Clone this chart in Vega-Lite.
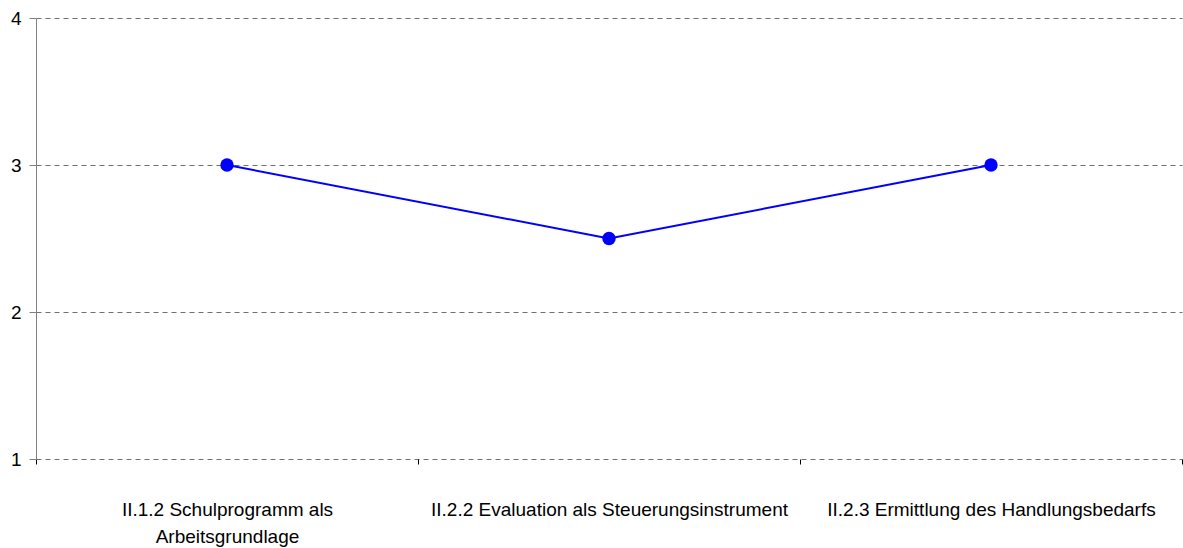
{
  "$schema": "https://vega.github.io/schema/vega-lite/v6.json",
  "width": 1146,
  "height": 441,
  "autosize": {"type": "none"},
  "padding": {"left": 36, "top": 18, "right": 1, "bottom": 89},
  "background": "white",
  "config": {"view": {"stroke": null}, "font": "Liberation Sans"},
  "data": {
    "values": [
      {"kategorie": "II.1.2 Schulprogramm als Arbeitsgrundlage", "wert": 3},
      {"kategorie": "II.2.2 Evaluation als Steuerungsinstrument", "wert": 2.5},
      {"kategorie": "II.2.3 Ermittlung des Handlungsbedarfs", "wert": 3}
    ]
  },
  "encoding": {
    "x": {
      "field": "kategorie",
      "type": "nominal",
      "sort": null,
      "scale": {"paddingInner": 0, "paddingOuter": 0},
      "axis": {
        "title": null,
        "labelAngle": 0,
        "domain": false,
        "grid": false,
        "tickBand": "extent",
        "ticks": true,
        "tickSize": 5,
        "tickColor": "#000000",
        "labelFont": "Liberation Sans",
        "labelFontSize": 19,
        "labelColor": "#000000",
        "labelPadding": 36,
        "labelLimit": 0,
        "labelBaseline": "top",
        "labelLineHeight": 27,
        "labelExpr": "datum.value == 'II.1.2 Schulprogramm als Arbeitsgrundlage' ? ['II.1.2 Schulprogramm als', 'Arbeitsgrundlage'] : datum.value"
      }
    },
    "y": {
      "field": "wert",
      "type": "quantitative",
      "scale": {"domain": [1, 4], "nice": false, "zero": false},
      "axis": {
        "title": null,
        "values": [1, 2, 3, 4],
        "format": "d",
        "domain": true,
        "domainColor": "#808080",
        "domainWidth": 1,
        "ticks": true,
        "tickSize": 7,
        "tickColor": "#808080",
        "grid": true,
        "gridColor": "#707070",
        "gridDash": [5, 4],
        "gridWidth": 1,
        "labelFont": "Liberation Sans",
        "labelFontSize": 19,
        "labelColor": "#000000",
        "labelPadding": 8
      }
    }
  },
  "layer": [
    {"mark": {"type": "line", "color": "#0000FF", "strokeWidth": 2}},
    {"mark": {"type": "point", "filled": true, "color": "#0000FF", "size": 180, "opacity": 1, "shape": "circle"}}
  ]
}
